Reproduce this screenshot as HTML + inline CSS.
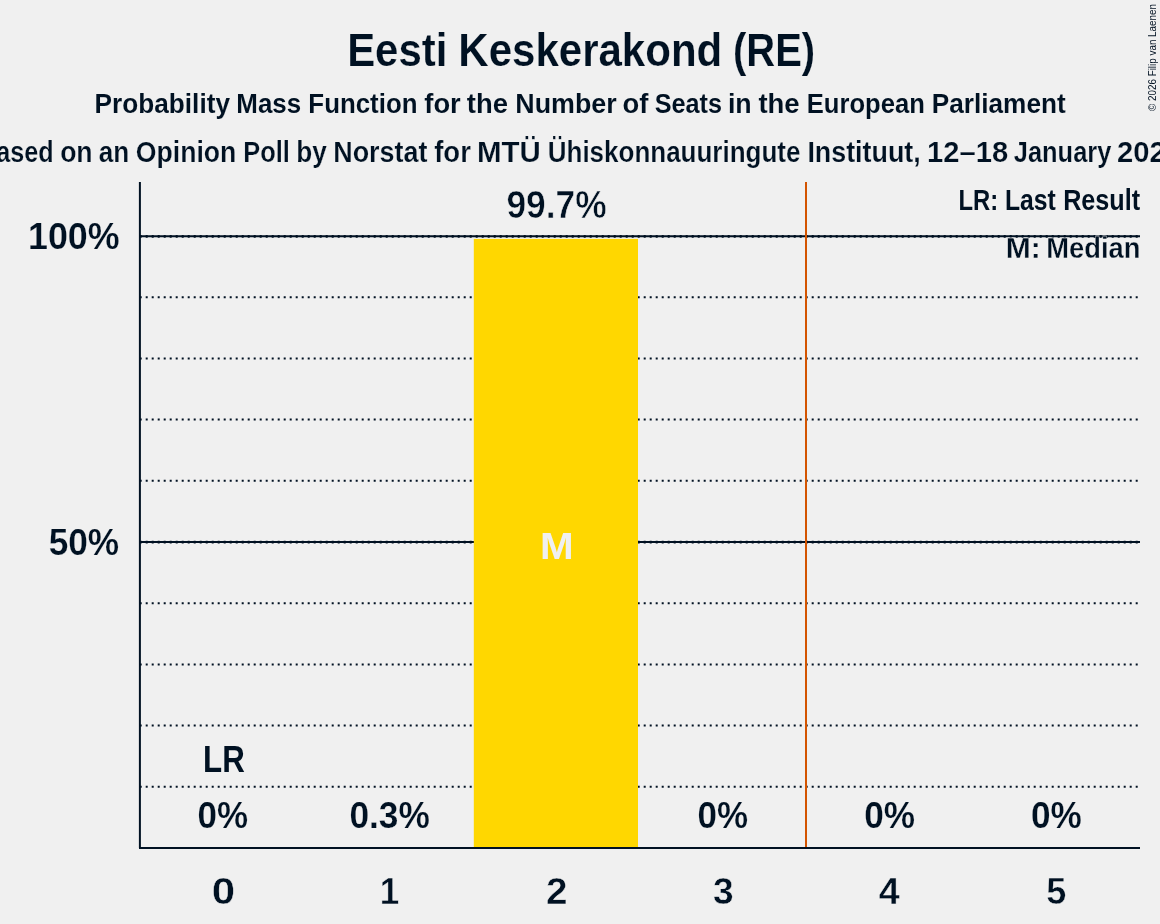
<!DOCTYPE html>
<html lang="en"><head><meta charset="utf-8"><title>Eesti Keskerakond (RE)</title><style>
html,body{margin:0;padding:0;background:#f0f0f0;overflow:hidden}
svg{display:block}
text{font-family:"Liberation Sans",sans-serif;font-weight:700;fill:#001122;white-space:pre;stroke:#f0f0f0;stroke-width:0}
#t1{stroke-width:0.2px}
#t2{stroke-width:0.05px}
#t3{stroke-width:0.2px}
#l2{stroke-width:0.3px}
.n{stroke-width:0.2px}
.d{stroke-width:0.45px}
#b2{stroke-width:0.55px}
</style></head><body>
<svg width="1160" height="924" viewBox="0 0 1160 924">
<rect width="1160" height="924" fill="#f0f0f0"/>
<text id="t1" y="66.3" font-size="47"><tspan x="347.16" textLength="100.14" lengthAdjust="spacingAndGlyphs">Eesti</tspan> <tspan x="458.31" textLength="263.95" lengthAdjust="spacingAndGlyphs">Keskerakond</tspan> <tspan x="732.96" textLength="82.17" lengthAdjust="spacingAndGlyphs">(RE)</tspan></text>
<text id="t2" y="113.4" font-size="28.5"><tspan x="94.62" textLength="135.35" lengthAdjust="spacingAndGlyphs">Probability</tspan> <tspan x="236.37" textLength="64.82" lengthAdjust="spacingAndGlyphs">Mass</tspan> <tspan x="308.34" textLength="109.17" lengthAdjust="spacingAndGlyphs">Function</tspan> <tspan x="424.31" textLength="36.46" lengthAdjust="spacingAndGlyphs">for</tspan> <tspan x="466.80" textLength="41.14" lengthAdjust="spacingAndGlyphs">the</tspan> <tspan x="515.29" textLength="101.40" lengthAdjust="spacingAndGlyphs">Number</tspan> <tspan x="622.44" textLength="25.87" lengthAdjust="spacingAndGlyphs">of</tspan> <tspan x="654.68" textLength="67.29" lengthAdjust="spacingAndGlyphs">Seats</tspan> <tspan x="727.92" textLength="23.80" lengthAdjust="spacingAndGlyphs">in</tspan> <tspan x="758.45" textLength="41.20" lengthAdjust="spacingAndGlyphs">the</tspan> <tspan x="806.79" textLength="118.02" lengthAdjust="spacingAndGlyphs">European</tspan> <tspan x="931.83" textLength="133.81" lengthAdjust="spacingAndGlyphs">Parliament</tspan></text>
<text id="t3" y="161.7" font-size="28.8"><tspan x="-21.98" textLength="75.57" lengthAdjust="spacingAndGlyphs">Based</tspan> <tspan x="60.14" textLength="32.46" lengthAdjust="spacingAndGlyphs">on</tspan> <tspan x="98.87" textLength="30.41" lengthAdjust="spacingAndGlyphs">an</tspan> <tspan x="135.85" textLength="100.49" lengthAdjust="spacingAndGlyphs">Opinion</tspan> <tspan x="243.24" textLength="46.53" lengthAdjust="spacingAndGlyphs">Poll</tspan> <tspan x="296.16" textLength="30.53" lengthAdjust="spacingAndGlyphs">by</tspan> <tspan x="333.30" textLength="94.08" lengthAdjust="spacingAndGlyphs">Norstat</tspan> <tspan x="434.20" textLength="36.65" lengthAdjust="spacingAndGlyphs">for</tspan> <tspan x="477.06" textLength="63.77" lengthAdjust="spacingAndGlyphs">MTÜ</tspan> <tspan x="547.74" textLength="252.66" lengthAdjust="spacingAndGlyphs">Ühiskonnauuringute</tspan> <tspan x="807.40" textLength="113.32" lengthAdjust="spacingAndGlyphs">Instituut,</tspan> <tspan x="927.08" textLength="81.06" lengthAdjust="spacingAndGlyphs">12–18</tspan> <tspan x="1013.80" textLength="97.55" lengthAdjust="spacingAndGlyphs">January</tspan> <tspan x="1117.02" textLength="64.96" lengthAdjust="spacingAndGlyphs">2026</tspan></text>
<text id="cp" transform="translate(1156.3,4) rotate(-90)" font-size="10" text-anchor="end" textLength="107" lengthAdjust="spacingAndGlyphs" style="font-weight:400">© 2026 Filip van Laenen</text>
<g stroke="#001122" stroke-width="2">
<line x1="140" y1="236.3" x2="1140" y2="236.3"/>
<line x1="140" y1="542.1" x2="1140" y2="542.1"/>
</g>
<g stroke="#001122" stroke-width="2.7" stroke-dasharray="2 4">
<line x1="139.7" y1="236.3" x2="1140" y2="236.3"/>
<line x1="139.7" y1="542.1" x2="1140" y2="542.1"/>
</g>
<g stroke="#001122" stroke-width="2" stroke-dasharray="2 4">
<line x1="139.7" y1="297.2" x2="1140" y2="297.2"/>
<line x1="139.7" y1="358.4" x2="1140" y2="358.4"/>
<line x1="139.7" y1="419.6" x2="1140" y2="419.6"/>
<line x1="139.7" y1="480.8" x2="1140" y2="480.8"/>
<line x1="139.7" y1="603.2" x2="1140" y2="603.2"/>
<line x1="139.7" y1="664.4" x2="1140" y2="664.4"/>
<line x1="139.7" y1="725.6" x2="1140" y2="725.6"/>
<line x1="139.7" y1="786.8" x2="1140" y2="786.8"/>
</g>
<rect x="473.8" y="238.9" width="164.2" height="609.1" fill="#FFD700"/>
<line x1="806" y1="182" x2="806" y2="848" stroke="#D35400" stroke-width="2"/>
<line x1="139.9" y1="182" x2="139.9" y2="848" stroke="#001122" stroke-width="2"/>
<line x1="139" y1="848" x2="1140" y2="848" stroke="#001122" stroke-width="2"/>
<text id="y100" class="n" x="28.03" y="249" font-size="37.5" textLength="91.60" lengthAdjust="spacingAndGlyphs">100%</text>
<text id="y50" class="n" x="48.64" y="554.5" font-size="37.5" textLength="70.42" lengthAdjust="spacingAndGlyphs">50%</text>
<text id="b0" class="n" x="197.62" y="828" font-size="37.5" textLength="50.48" lengthAdjust="spacingAndGlyphs">0%</text>
<text id="lr" x="203.10" y="772.2" font-size="37" textLength="41.73" lengthAdjust="spacingAndGlyphs">LR</text>
<text id="b1" class="n" x="349.40" y="828" font-size="37.5" textLength="80.37" lengthAdjust="spacingAndGlyphs">0.3%</text>
<text id="b2" x="506.42" y="218" font-size="38" textLength="100.30" lengthAdjust="spacingAndGlyphs">99.7%</text>
<text id="m" x="539.92" y="559" font-size="37" textLength="33.65" lengthAdjust="spacingAndGlyphs" style="fill:#f0f0f0;stroke:none">M</text>
<text id="b3" class="n" x="697.62" y="828" font-size="37.5" textLength="50.48" lengthAdjust="spacingAndGlyphs">0%</text>
<text id="b4" class="n" x="864.19" y="828" font-size="37.5" textLength="50.80" lengthAdjust="spacingAndGlyphs">0%</text>
<text id="b5" class="n" x="1030.94" y="828" font-size="37.5" textLength="50.79" lengthAdjust="spacingAndGlyphs">0%</text>
<text id="x0" class="d" x="211.74" y="904.2" font-size="37.5" textLength="23.35" lengthAdjust="spacingAndGlyphs">0</text>
<text id="x1" class="d" x="379.79" y="904.2" font-size="37.5" textLength="19.47" lengthAdjust="spacingAndGlyphs">1</text>
<text id="x2" class="d" x="545.99" y="904.2" font-size="37.5" textLength="21.50" lengthAdjust="spacingAndGlyphs">2</text>
<text id="x3" class="d" x="712.98" y="904.2" font-size="37.5" textLength="20.66" lengthAdjust="spacingAndGlyphs">3</text>
<text id="x4" class="d" x="878.88" y="904.2" font-size="37.5" textLength="20.98" lengthAdjust="spacingAndGlyphs">4</text>
<text id="x5" class="d" x="1046.14" y="904.2" font-size="37.5" textLength="20.07" lengthAdjust="spacingAndGlyphs">5</text>
<text id="l1" y="210" font-size="28.8"><tspan x="958.52" textLength="39.70" lengthAdjust="spacingAndGlyphs">LR:</tspan> <tspan x="1004.89" textLength="50.83" lengthAdjust="spacingAndGlyphs">Last</tspan> <tspan x="1063.17" textLength="76.89" lengthAdjust="spacingAndGlyphs">Result</tspan></text>
<text id="l2" y="258" font-size="28.8"><tspan x="1005.73" textLength="35.03" lengthAdjust="spacingAndGlyphs">M:</tspan> <tspan x="1046.33" textLength="94.04" lengthAdjust="spacingAndGlyphs">Median</tspan></text>
</svg>
</body></html>
